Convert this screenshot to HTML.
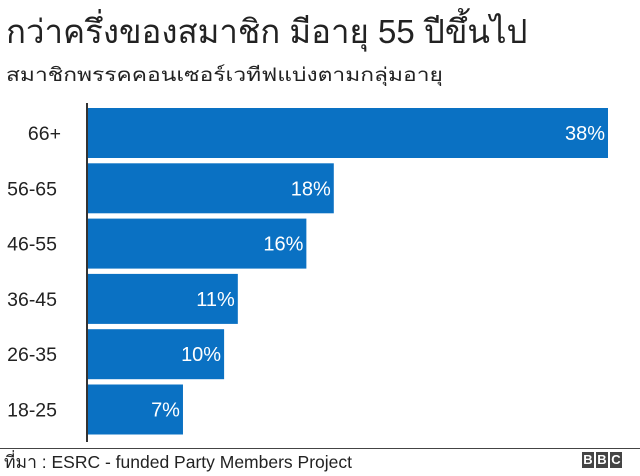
<!DOCTYPE html>
<html><head><meta charset="utf-8"><style>
body{margin:0;background:#fff;width:640px;height:475px;overflow:hidden;font-family:"Liberation Sans","Noto Sans CJK SC",sans-serif;position:relative}
.t{position:absolute;left:6px;top:5px;font-size:33px;color:#222;white-space:nowrap}
.s{position:absolute;left:6px;top:60px;font-size:19px;color:#222;white-space:nowrap;transform:scaleX(1.2);transform-origin:left}
.f{position:absolute;left:4px;top:448px;font-size:17.5px;color:#222}
.line{position:absolute;left:0;top:448px;width:640px;height:1px;background:#444}
.bbc{position:absolute;top:452px;left:582px;display:flex;gap:2px}
.bbc span{width:12px;height:16px;background:#444;color:#fff;font-size:13px;font-weight:bold;text-align:center;line-height:16px}
</style></head><body>
<div class="t">กว่าครึ่งของสมาชิก มีอายุ 55 ปีขึ้นไป</div>
<div class="s">สมาชิกพรรคคอนเซอร์เวทีฟแบ่งตามกลุ่มอายุ</div>
<svg id="c" width="640" height="475" style="position:absolute;left:0;top:0"></svg>
<div class="line"></div>
<div class="f">ที่มา : ESRC - funded Party Members Project</div>
<div class="bbc"><span>B</span><span>B</span><span>C</span></div>
<script>
const categories=["66+","56-65","46-55","36-45","26-35","18-25"];
const values=[38,18,16,11,10,7];
const labels=["38%","18%","16%","11%","10%","7%"];
const svg=document.getElementById('c');const NS='http://www.w3.org/2000/svg';
const x0=87,pxPer=521/38,y0=108,pitch=55.3,bh=50;
const x=v=>x0+v*pxPer;
categories.forEach((c,i)=>{
 const y=y0+i*pitch;
 const r=document.createElementNS(NS,'rect');
 
 
 r.setAttribute('x',x0);r.setAttribute('y',y);r.setAttribute('width',x(values[i])-x0);r.setAttribute('height',bh);r.setAttribute('fill','#0a71c3');
 svg.appendChild(r);
 const t=document.createElementNS(NS,'text');
 
 
 t.setAttribute('x',x(values[i])-3);t.setAttribute('y',y+bh/2+7);t.setAttribute('text-anchor','end');t.setAttribute('fill','#fff');t.setAttribute('font-size','20');t.setAttribute('font-family','Liberation Sans, sans-serif');
 t.textContent=labels[i];svg.appendChild(t);
 const l=document.createElementNS(NS,'text');
 
 
 l.setAttribute('x',c==='66+'?61:57);l.setAttribute('y',y+bh/2+7);l.setAttribute('text-anchor','end');l.setAttribute('fill','#222');l.setAttribute('font-size','19.5');l.setAttribute('font-family','Liberation Sans, sans-serif');
 l.textContent=c;svg.appendChild(l);
});
const a=document.createElementNS(NS,'line');


a.setAttribute('x1',x0);a.setAttribute('x2',x0);a.setAttribute('y1',103);a.setAttribute('y2',442);a.setAttribute('stroke','#333');a.setAttribute('stroke-width','2');
svg.appendChild(a);
</script>
</body></html>
